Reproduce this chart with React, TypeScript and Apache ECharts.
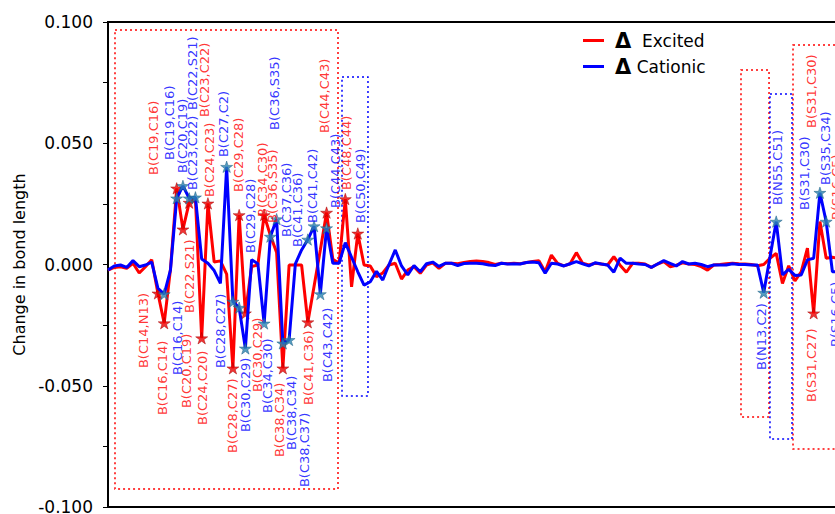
import React, { useEffect, useRef } from "react";
import * as echarts from "echarts";

// Bond index runs along x (0..117); values are changes in bond length.
const excited: number[] = [
  -0.0023, -0.0012, -0.0009, -0.0016, 0.0005, -0.0035, -0.0009, 0.0020, -0.0119, -0.0242,
  -0.0020, 0.0314, 0.0145, 0.0255, 0.0270, -0.0304, 0.0252, 0.0010, 0.0015, -0.0040,
  -0.0428, 0.0204, -0.0201, -0.0008, -0.0002, 0.0204, 0.0120, 0.0050, -0.0428, -0.0002,
  -0.0002, -0.0002, -0.0238, -0.0090, 0.0060, 0.0214, 0.0022, 0.0005, 0.0270, -0.0092,
  0.0128, -0.0002, -0.0006, -0.0050, -0.0035, -0.0002, 0.0005, -0.0060, -0.0023, -0.0009,
  -0.0036, -0.0002, 0.0007, -0.0016, 0.0005, 0.0005, 0.0003, 0.0008, 0.0012, 0.0014,
  0.0012, 0.0008, 0.0000, 0.0005, 0.0003, 0.0005, 0.0003, 0.0008, 0.0012, 0.0016,
  -0.0030, 0.0039, 0.0005, -0.0006, 0.0003, 0.0049, 0.0005, -0.0002, 0.0005, 0.0002,
  -0.0002, 0.0032, -0.0003, -0.0032, 0.0005, 0.0005, 0.0002, -0.0012, 0.0002, 0.0012,
  -0.0009, -0.0003, 0.0007, 0.0002, 0.0000, -0.0009, -0.0023, -0.0002, 0.0000, 0.0003,
  0.0005, 0.0003, 0.0002, 0.0000, -0.0005, 0.0000, 0.0026, 0.0046, -0.0078, -0.0005,
  -0.0068, -0.0030, 0.0067, -0.0201, 0.0177, 0.0026, 0.0030, 0.0025,
];

const cationic: number[] = [
  -0.0023, -0.0006, -0.0002, -0.0012, 0.0016, -0.0009, -0.0002, 0.0010, -0.0098, -0.0122,
  -0.0023, 0.0273, 0.0324, 0.0273, 0.0277, 0.0023, 0.0005, -0.0025, -0.0078, 0.0403,
  -0.0153, -0.0178, -0.0346, 0.0020, 0.0003, -0.0243, 0.0115, 0.0187, -0.0325, -0.0311,
  0.0003, 0.0060, 0.0103, 0.0158, -0.0122, 0.0150, 0.0005, 0.0005, 0.0090, 0.0030,
  -0.0030, -0.0085, -0.0071, -0.0028, -0.0064, 0.0000, 0.0060, -0.0006, -0.0043, -0.0004,
  -0.0030, 0.0003, 0.0010, -0.0008, 0.0005, 0.0005, -0.0004, 0.0004, 0.0005, 0.0005,
  0.0003, -0.0002, -0.0004, 0.0005, 0.0002, 0.0003, 0.0002, 0.0008, 0.0010, 0.0007,
  -0.0036, 0.0005, 0.0002, -0.0006, 0.0003, 0.0012, 0.0003, -0.0006, 0.0007, 0.0002,
  -0.0002, -0.0032, 0.0026, 0.0005, 0.0005, 0.0002, 0.0000, -0.0012, 0.0002, 0.0016,
  0.0005, -0.0006, 0.0012, 0.0002, 0.0005, 0.0000, -0.0009, -0.0002, -0.0002, -0.0002,
  0.0003, 0.0000, 0.0000, -0.0002, -0.0002, -0.0116, 0.0030, 0.0177, -0.0043, -0.0020,
  -0.0045, -0.0043, 0.0019, 0.0026, 0.0296, 0.0177, -0.0030, -0.0030,
];

// indices of the starred (annotated) bonds
const excitedStars: number[] = [8, 9, 11, 12, 13, 15, 16, 20, 21, 22, 25, 28, 32, 35, 38, 40, 113];
const cationicStars: number[] = [9, 11, 12, 13, 14, 19, 20, 21, 22, 25, 26, 27, 28, 29, 32, 33, 34, 35, 105, 107, 114, 115];

// annotation text with its anchor (bond index, value) where the vertical text begins
const excitedNotes: [string, number, number][] = [
  ["B(C19,C16)", 7.21, 0.0369],
  ["B(C23,C22)", 15.53, 0.0608],
  ["B(C24,C23)", 16.33, 0.0278],
  ["B(C29,C28)", 20.82, 0.0299],
  ["B(C34,C30)", 24.66, 0.0196],
  ["B(C36,S35)", 26.42, 0.0171],
  ["B(C44,C43)", 34.59, 0.0542],
  ["B(C48,C44)", 38.27, 0.0307],
  ["B(C14,N13)", 5.76, -0.0427],
  ["B(C16,C14)", 8.65, -0.0621],
  ["B(C20,C19)", 12.65, -0.0592],
  ["B(C22,S21)", 13.13, -0.02],
  ["B(C24,C20)", 15.21, -0.0662],
  ["B(C28,C27)", 19.86, -0.0777],
  ["B(C30,C29)", 23.86, -0.0526],
  ["B(C38,C34)", 27.54, -0.0794],
  ["B(C41,C36)", 32.03, -0.0579],
  ["B(S31,C30)", 112.73, 0.0563],
  ["B(S31,C27)", 112.73, -0.0567],
  ["B(S16,C5)", 116.7, 0.0184],
];

const cationicNotes: [string, number, number][] = [
  ["B(C19,C16)", 9.77, 0.0431],
  ["B(C20,C19)", 11.85, 0.0377],
  ["B(C23,C22)", 13.61, 0.0307],
  ["B(C22,S21)", 13.61, 0.0637],
  ["B(C27,C2)", 18.57, 0.0443],
  ["B(C29,C28)", 22.74, 0.0047],
  ["B(C36,S35)", 26.74, 0.0555],
  ["B(C37,C36)", 28.66, 0.0113],
  ["B(C41,C36)", 30.42, 0.0072],
  ["B(C41,C42)", 32.67, 0.0171],
  ["B(C44,C43)", 36.35, 0.0233],
  ["B(C50,C49)", 40.51, 0.0171],
  ["B(C16,C14)", 11.05, -0.0456],
  ["B(C28,C27)", 18.09, -0.0427],
  ["B(C30,C29)", 21.94, -0.0691],
  ["B(C34,C30)", 25.62, -0.0612],
  ["B(C38,C34)", 29.46, -0.0765],
  ["B(C38,C37)", 31.54, -0.0918],
  ["B(C43,C42)", 35.07, -0.0485],
  ["B(N55,C51)", 107.13, 0.0245],
  ["B(S31,C30)", 111.45, 0.0225],
  ["B(S35,C34)", 114.83, 0.0328],
  ["B(N13,C2)", 104.57, -0.0435],
  ["B(S16,C5)", 116.5, -0.034],
];

// dotted boxes: [x1, y1, x2, y2] in bond index / value
const excitedBoxes: [number, number, number, number][] = [
  [1.12, 0.0967, 36.83, -0.0926],
  [101.36, 0.0802, 105.85, -0.0629],
  [109.69, 0.0905, 119.5, -0.0761],
];
const cationicBoxes: [number, number, number, number][] = [
  [37.47, 0.0773, 41.63, -0.0542],
  [106.0, 0.0703, 109.53, -0.072],
];

const X_MIN = 0;
const X_MAX = 120;
const Y_MIN = -0.1;
const Y_MAX = 0.1;
const Y_STEP = 0.05;

const STAR =
  "path://M0,-100L22.45,-30.9L95.1,-30.9L36.3,11.8L58.8,80.9L0,38.2L-58.8,80.9L-36.3,11.8L-95.1,-30.9L-22.45,-30.9Z";

const FONT = "DejaVu Sans";
const RED = "#ff0000";
const BLUE = "#0000ff";

function noteSeries(notes: [string, number, number][], color: string, z: number) {
  return {
    type: "scatter",
    silent: true,
    z,
    symbol: "circle",
    symbolSize: 1,
    itemStyle: { color: "rgba(0,0,0,0)" },
    data: notes.map(([t, x, y]) => ({ name: t, value: [x, y] })),
    label: {
      show: true,
      formatter: "{b}",
      position: "inside",
      rotate: 90,
      align: "left",
      verticalAlign: "middle",
      color,
      fontFamily: FONT,
      fontSize: 13,
    },
  };
}

function boxArea(boxes: [number, number, number, number][], color: string) {
  return {
    silent: true,
    itemStyle: {
      color: "rgba(0,0,0,0)",
      borderColor: color,
      borderWidth: 1.5,
      borderType: [2, 3],
    },
    data: boxes.map(([x1, y1, x2, y2]) => [{ coord: [x1, y1] }, { coord: [x2, y2] }]),
  };
}

export default function App() {
  const ref = useRef<HTMLDivElement>(null);
  useEffect(() => {
    if (!ref.current) return;
    const chart = echarts.init(ref.current, undefined, { renderer: "svg" });
    const option: any = {
      animation: false,
      backgroundColor: "#ffffff",
      grid: {
        left: 108,
        top: 22,
        width: (X_MAX - X_MIN) * 6.245,
        height: 485,
        show: true,
        borderColor: "#000",
        borderWidth: 2,
        backgroundColor: "rgba(0,0,0,0)",
        outerBoundsMode: "none",
        containLabel: false,
      },
      legend: {
        data: ["Excited", "Cationic"],
        orient: "vertical",
        left: 583,
        top: 30,
        padding: 0,
        icon: "rect",
        itemWidth: 21,
        itemHeight: 3,
        itemGap: 5,
        selectedMode: false,
        formatter: (name: string) =>
          name === "Excited" ? "{d|Δ}  Excited" : "{d|Δ} Cationic",
        textStyle: {
          fontFamily: FONT,
          fontSize: 17,
          color: "#000",
          lineHeight: 20,
          padding: [0, 0, 0, 6],
          rich: {
            d: { fontFamily: FONT, fontSize: 21, fontWeight: "bold", color: "#000", lineHeight: 20 },
          },
        },
      },
      xAxis: {
        type: "value",
        min: X_MIN,
        max: X_MAX,
        axisLine: { show: false },
        axisTick: { show: false },
        axisLabel: { show: false },
        splitLine: { show: false },
      },
      yAxis: {
        type: "value",
        min: Y_MIN,
        max: Y_MAX,
        interval: Y_STEP,
        name: "Change in bond length",
        nameLocation: "middle",
        nameGap: 78,
        nameTextStyle: { fontFamily: FONT, fontSize: 16, color: "#000" },
        axisLine: { show: true, lineStyle: { color: "#000", width: 2 } },
        axisTick: { show: true, inside: false, length: 5, lineStyle: { color: "#000", width: 1 } },
        minorTick: { show: true, splitNumber: 2, length: 5, lineStyle: { color: "#000", width: 1 } },
        axisLabel: {
          margin: 15,
          fontFamily: FONT,
          fontSize: 17,
          color: "#000",
          formatter: (v: number) => v.toFixed(3),
        },
        splitLine: { show: false },
      },
      series: [
        {
          name: "Excited",
          type: "line",
          z: 2,
          symbol: "none",
          color: RED,
          lineStyle: { color: RED, width: 3 },
          data: excited.map((v, i) => [i, v]),
          markArea: boxArea(excitedBoxes, RED),
        },
        {
          name: "ExcitedStars",
          type: "scatter",
          z: 3,
          symbol: STAR,
          symbolSize: [12, 11.5],
          itemStyle: { color: "#ee0000", borderColor: "#a00000", borderWidth: 0.6 },
          data: excitedStars.map((i) => [i, excited[i]]),
        },
        {
          name: "Cationic",
          type: "line",
          z: 4,
          symbol: "none",
          color: BLUE,
          lineStyle: { color: BLUE, width: 3 },
          data: cationic.map((v, i) => [i, v]),
          markArea: boxArea(cationicBoxes, BLUE),
        },
        {
          name: "CationicStars",
          type: "scatter",
          z: 5,
          symbol: STAR,
          symbolSize: [12, 11.5],
          itemStyle: { color: "#2a85b0", borderColor: "#1a5a80", borderWidth: 0.6 },
          data: cationicStars.map((i) => [i, cationic[i]]),
        },
        noteSeries(excitedNotes, RED, 6),
        noteSeries(cationicNotes, BLUE, 6),
      ],
    };
    chart.setOption(option);
    return () => chart.dispose();
  }, []);
  return (
    <div
      ref={ref}
      style={{ position: "absolute", left: 0, top: 0, width: 835, height: 514, background: "#fff" }}
    />
  );
}
